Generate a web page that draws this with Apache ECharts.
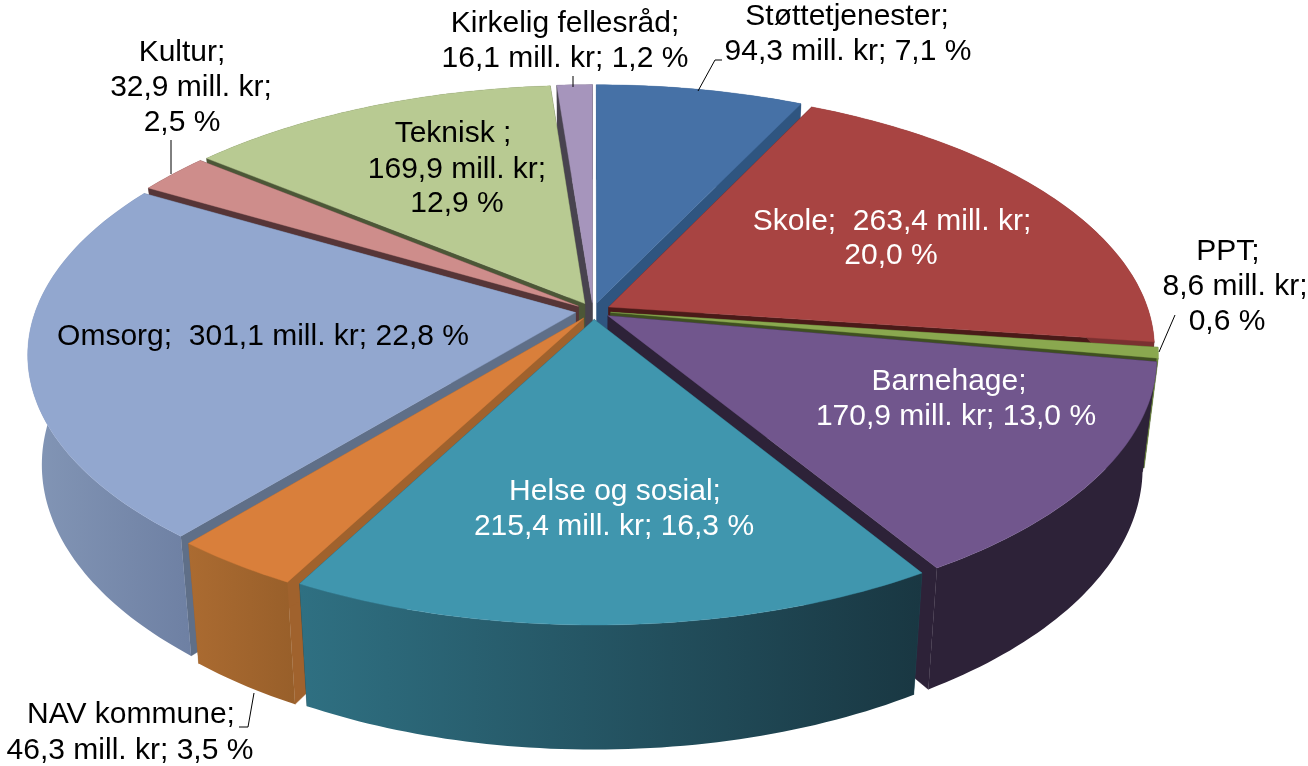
<!DOCTYPE html>
<html><head><meta charset="utf-8">
<script src="https://cdn.jsdelivr.net/npm/echarts@6/dist/echarts.min.js"></script>
<style>html,body{margin:0;padding:0;background:#fff}#c{width:1308px;height:766px}</style>
</head><body><div id="c"></div>
<script>
// ---- data ----
const categories = ['Støttetjenester','Skole','PPT','Barnehage','Helse og sosial','NAV kommune','Omsorg','Kultur','Teknisk ','Kirkelig fellesråd'];
const values = [94.3,263.4,8.6,170.9,215.4,46.3,301.1,32.9,169.9,16.1];
const percents = [7.1,20.0,0.6,13.0,16.3,3.5,22.8,2.5,12.9,1.2];

// ---- styles ----
const topColors = ['#4671A6','#A84442','#8AA84F','#71568D','#4096AE','#D97F3B','#92A7CF','#CE8D8B','#B8CA92','#A695BC'];
const edgeColors = ['#2F5580','#4A1A18','#3F5020','#2D2238','#1F4A57','#A0622D','#5F6F88','#563537','#4C5737','#48434F'];
const wallFrom = ['#2F5580','#7A3030','#6E8A3C','#2D2238','#2F7082','#AB6B31','#8396B6','#563537','#4C5737','#48434F'];
const wallTo = ['#2F5580','#7A3030','#6E8A3C','#2D2238','#193742','#985F2A','#6E80A3','#563537','#4C5737','#48434F'];
const FONT = '30px "Liberation Sans", Arial, sans-serif';

// ---- label layout: one [x, y] per text line, and which colour ----
const fmt = v => v.toFixed(1).replace('.', ',');
const labelLines = categories.map((c, i) => {
  const n = c + ';', m = fmt(values[i]) + ' mill. kr;', p = fmt(percents[i]) + ' %';
  return [[n, m + ' ' + p], [n + '  ' + m, p], [n, m, p], [n, m + ' ' + p], [n, m + ' ' + p],
          [n, m + ' ' + p], [n + '  ' + m + ' ' + p], [n, m, p], [n, m, p], [n, m + ' ' + p]][i];
});
const labelPos = [
  [[847,17],[848,52]], [[892,222],[891,256]], [[1228,252],[1235,287],[1227,322]],
  [[949,382],[956,417]], [[615,492],[614,527]], [[131,715],[130,751]],
  [[263,337]], [[182,53],[191,88],[182,123]], [[453,134],[457,170],[457,204]], [[565,24],[565,59]]
];
const labelWhite = [false,true,false,true,true,false,false,false,false,false];
const leaders = [
  [[698,91],[715,60],[722,60]], [[1159,352],[1175,315]], [[254,693],[248,727],[239,727]],
  [[171,174],[171,140]], [[573,87],[573,76]]
];

// ---- projection of the tilted, exploded disc ----
const CX = 593, CY = 311, R = 540, RY = 254.7, PERSP = 0.157, EXPLODE = 0.033;
const total = values.reduce((a, b) => a + b, 0);
const deg = Math.PI / 180;
function warp(t) { const d = (t - 180) / 30; return t + 3.5 * Math.exp(-d * d / 2); }
function project(thetaDeg, r, midDeg) {
  const th = warp(thetaDeg) * deg, m = midDeg * deg;
  const u = r * Math.sin(th) + EXPLODE * Math.sin(m);
  const v = -r * Math.cos(th) - EXPLODE * Math.cos(m);
  const s = 1 / (1 - PERSP * v);
  return [CX + u * R * s, CY + v * RY * s];
}
function drop(p) {
  return [CX + (p[0] - CX) * 0.975, p[1] + 110 + (p[1] - 360) * 0.055];
}
const starts = []; let acc = 0;
values.forEach(v => { starts.push(acc / total * 360); acc += v; });
const spans = values.map(v => v / total * 360);
const mids = starts.map((s, i) => s + spans[i] / 2);
const ranks = mids.map((m, i) => i).sort((a, b) => Math.cos(mids[b] * deg) - Math.cos(mids[a] * deg));

function poly(points, fill, z2) {
  return { type: 'polygon', shape: { points }, z2, silent: true,
    style: { fill, stroke: typeof fill === 'string' ? fill : null, lineWidth: typeof fill === 'string' ? 0.4 : 0 } };
}
function renderSlice(params, api) {
  const i = params.dataIndex;
  const a0 = starts[i], span = api.value(0) / total * 360, a1 = a0 + span, mid = a0 + span / 2;
  const rank = ranks.indexOf(i) * 10 + 1;
  const arc = [];
  const steps = Math.max(2, Math.ceil(span));
  for (let k = 0; k <= steps; k++) arc.push(project(a0 + span * k / steps, 1, mid));
  const tip = project(0, 0, mid);
  const tipB = drop(tip);
  const arcB = arc.map(drop);
  const grad = new echarts.graphic.LinearGradient(0, 0, 1, 0, [
    { offset: 0, color: wallFrom[i] }, { offset: 1, color: wallTo[i] }]);
  const children = [
    poly([tip, arc[0], arcB[0], tipB], edgeColors[i], rank),
    poly([tip, arc[arc.length - 1], arcB[arcB.length - 1], tipB], edgeColors[i], rank),
    poly(arc.concat(arcB.slice().reverse()), grad, rank + 1),
    poly([tip].concat(arc), topColors[i], rank + 2)
  ];
  return { type: 'group', children };
}
function renderLabels(params, api) {
  const i = params.dataIndex, children = [];
  labelLines[i].forEach((t, k) => {
    children.push({ type: 'text', z2: 500, silent: true, style: {
      text: t, x: labelPos[i][k][0], y: labelPos[i][k][1], align: 'center', verticalAlign: 'middle',
      font: FONT, fill: labelWhite[i] ? '#FFFFFF' : '#000000' } });
  });
  return { type: 'group', children };
}
function renderLeader(params) {
  return { type: 'polyline', z2: 400, silent: true, shape: { points: leaders[params.dataIndex] },
    style: { stroke: '#000', lineWidth: 1, fill: null } };
}
const chart = echarts.init(document.getElementById('c'), null, { renderer: 'canvas' });
chart.setOption({
  animation: false, backgroundColor: '#fff',
  series: [
    { type: 'custom', coordinateSystem: 'none', renderItem: renderSlice, silent: true,
      data: categories.map((c, i) => ({ name: c, value: [values[i]] })) },
    { type: 'custom', coordinateSystem: 'none', renderItem: renderLeader, silent: true, z: 3,
      data: leaders.map((l, i) => [i]) },
    { type: 'custom', coordinateSystem: 'none', renderItem: renderLabels, silent: true, z: 4,
      data: categories.map((c, i) => ({ name: c, value: [percents[i]] })) }
  ]
});
</script></body></html>
